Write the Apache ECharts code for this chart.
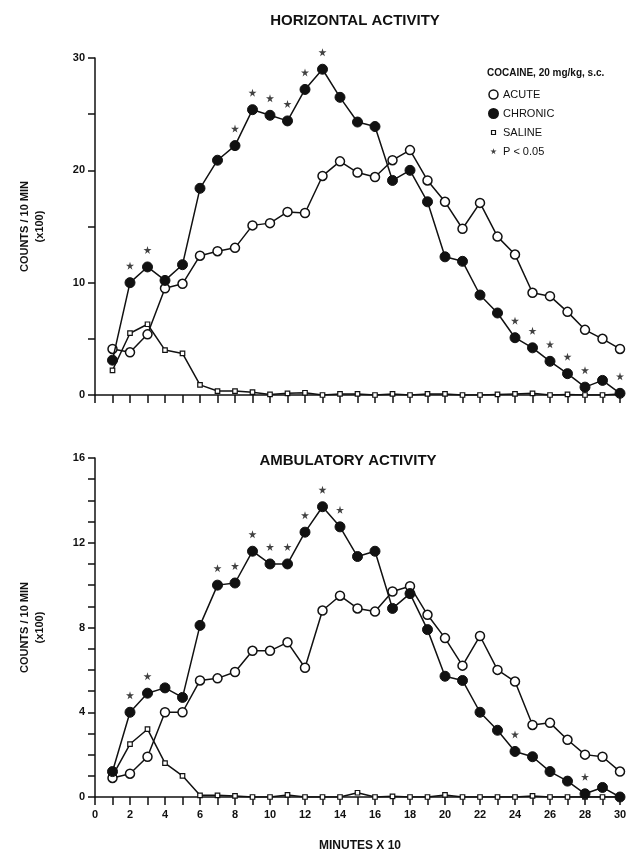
<!DOCTYPE html>
<html>
<head>
<meta charset="utf-8">
<script src="https://cdn.jsdelivr.net/npm/echarts@6/dist/echarts.min.js"></script>
<style>html,body{margin:0;padding:0;background:#fff}#c{width:638px;height:858px}</style>
</head>
<body>
<div id="c"></div>
<script>
// ---- data ----
var intervals = [1,2,3,4,5,6,7,8,9,10,11,12,13,14,15,16,17,18,19,20,21,22,23,24,25,26,27,28,29,30];

var horizAcute   = [4.1,3.8,5.4,9.5,9.9,12.4,12.8,13.1,15.1,15.3,16.3,16.2,19.5,20.8,19.8,19.4,20.9,21.8,19.1,17.2,14.8,17.1,14.1,12.5,9.1,8.8,7.4,5.8,5.0,4.1];
var horizChronic = [3.1,10.0,11.4,10.2,11.6,18.4,20.9,22.2,25.4,24.9,24.4,27.2,29.0,26.5,24.3,23.9,19.1,20.0,17.2,12.3,11.9,8.9,7.3,5.1,4.2,3.0,1.9,0.7,1.3,0.15];
var horizSaline  = [2.2,5.5,6.3,4.0,3.7,0.9,0.35,0.35,0.25,0.05,0.15,0.2,0.0,0.1,0.1,0.0,0.1,0.0,0.1,0.1,0.0,0.0,0.05,0.1,0.15,0.0,0.05,0.0,0.0,0.1];
var horizSig = [2,3,8,9,10,11,12,13,24,25,26,27,28,30];

var ambAcute   = [0.9,1.1,1.9,4.0,4.0,5.5,5.6,5.9,6.9,6.9,7.3,6.1,8.8,9.5,8.9,8.75,9.7,9.95,8.6,7.5,6.2,7.6,6.0,5.45,3.4,3.5,2.7,2.0,1.9,1.2];
var ambChronic = [1.2,4.0,4.9,5.15,4.7,8.1,10.0,10.1,11.6,11.0,11.0,12.5,13.7,12.75,11.35,11.6,8.9,9.6,7.9,5.7,5.5,4.0,3.15,2.15,1.9,1.2,0.75,0.15,0.45,0.0];
var ambSaline  = [1.0,2.5,3.2,1.6,1.0,0.08,0.08,0.05,0.0,0.0,0.1,0.0,0.0,0.0,0.2,0.0,0.03,0.0,0.0,0.1,0.0,0.0,0.0,0.0,0.05,0.0,0.0,0.0,0.0,0.0];
var ambSig = [2,3,7,8,9,10,11,12,13,14,24,28];

var xTicks = [0,2,4,6,8,10,12,14,16,18,20,22,24,26,28,30];

// ---- chart ----
var INK = '#111';
var FONT = '"Liberation Sans", Arial, sans-serif';
var STAR = 'path://M50,0 L61,35 L98,35 L68,57 L79,91 L50,70 L21,91 L32,57 L2,35 L39,35 Z';
var STAR_SMALL = 'path://M0,0 L0,0 M100,100 L100,100 M50,15 L58,40 L85,40 L63,55 L71,80 L50,65 L29,80 L37,55 L15,40 L42,40 Z';
var SQUARE_SMALL = 'path://M0,0 L0,0 M10,10 L10,10 M2.8,2.8 L7.2,2.8 L7.2,7.2 L2.8,7.2 Z';

function pairs(arr){ return intervals.map(function(x,i){ return [x, arr[i]]; }); }
function sigPairs(idx, arr){ return idx.map(function(x){ return [x, arr[x-1]]; }); }

function lineSeries(name, arr, gi, kind){
  var s = {
    name: name, type: 'line', xAxisIndex: gi, yAxisIndex: gi,
    data: pairs(arr), lineStyle: {color: INK, width: 1.5},
    showSymbol: true, silent: true
  };
  if (kind === 'acute'){ s.symbol='circle'; s.symbolSize=9; s.itemStyle={color:'#fff',borderColor:INK,borderWidth:1.5}; s.z=3; }
  if (kind === 'chronic'){ s.symbol='circle'; s.symbolSize=10; s.itemStyle={color:INK,borderColor:INK,borderWidth:1}; s.z=4; }
  if (kind === 'saline'){ s.symbol='rect'; s.symbolSize=4.5; s.itemStyle={color:'#fff',borderColor:INK,borderWidth:1.2}; s.z=2; }
  return s;
}
function starSeries(idx, arr, gi){
  return {name:'P < 0.05', type:'scatter', xAxisIndex:gi, yAxisIndex:gi,
    data: sigPairs(idx, arr), symbol: STAR, symbolSize: 8, symbolOffset:[0,-17],
    itemStyle:{color:INK}, z:5, silent:true};
}

function xAxis(gi, showLabels){
  return {type:'value', gridIndex:gi, min:0, max:30, interval:1,
    axisLine:{show:true, onZero:false, lineStyle:{color:INK,width:1.5}},
    axisTick:{show:true, inside:false, length:8, lineStyle:{color:INK,width:1.5}},
    axisLabel:{show:showLabels, color:INK, fontFamily:FONT, fontWeight:'bold', fontSize:11, margin:12,
      formatter:function(v){ return xTicks.indexOf(v) >= 0 ? String(v) : ''; }},
    splitLine:{show:false}};
}
function yAxis(gi, max, interval, labelEvery){
  return {type:'value', gridIndex:gi, min:0, max:max, interval:interval,
    name:'COUNTS / 10 MIN\n(x100)', nameLocation:'middle', nameGap:48, nameRotate:90,
    nameTextStyle:{color:INK, fontFamily:FONT, fontWeight:'bold', fontSize:11, lineHeight:15},
    axisLine:{show:true, onZero:false, lineStyle:{color:INK,width:1.5}},
    axisTick:{show:true, length:7, lineStyle:{color:INK,width:1.5}},
    axisLabel:{color:INK, fontFamily:FONT, fontWeight:'bold', fontSize:11, margin:10,
      formatter:function(v){ return (v % labelEvery === 0) ? String(v) : ''; }},
    splitLine:{show:false}};
}

var chart = echarts.init(document.getElementById('c'), null, {renderer:'canvas'});
chart.setOption({
  animation:false,
  backgroundColor:'#fff',
  title:[
    {text:'HORIZONTAL ACTIVITY', left:350, top:8, textAlign:'center',
      textStyle:{color:INK, fontFamily:FONT, fontWeight:'bold', fontSize:15}},
    {text:'AMBULATORY ACTIVITY', left:343, top:448, textAlign:'center',
      textStyle:{color:INK, fontFamily:FONT, fontWeight:'bold', fontSize:15}},
    {text:'COCAINE, 20 mg/kg, s.c.', left:482, top:63,
      textStyle:{color:INK, fontFamily:FONT, fontWeight:'bold', fontSize:10}},
    {text:'MINUTES X 10', left:355, top:835, textAlign:'center',
      textStyle:{color:INK, fontFamily:FONT, fontWeight:'bold', fontSize:12}}
  ],
  legend:{
    orient:'vertical', left:483, top:84, itemGap:8, itemWidth:9, itemHeight:9,
    textStyle:{color:INK, fontFamily:FONT, fontSize:11},
    selectedMode:false,
    data:[
      {name:'ACUTE', icon:'circle', itemStyle:{color:'#fff',borderColor:INK,borderWidth:1.5}},
      {name:'CHRONIC', icon:'circle', itemStyle:{color:INK,borderColor:INK}},
      {name:'SALINE', icon:SQUARE_SMALL, itemStyle:{color:'#fff',borderColor:INK,borderWidth:1.2}},
      {name:'P < 0.05', icon:STAR_SMALL, itemStyle:{color:INK}}
    ]
  },
  grid:[
    {left:95, top:58, width:525, height:337},
    {left:95, top:458, width:525, height:339}
  ],
  xAxis:[xAxis(0,false), xAxis(1,true)],
  yAxis:[yAxis(0,30,5,10), yAxis(1,16,1,4)],
  series:[
    lineSeries('SALINE', horizSaline, 0, 'saline'),
    lineSeries('ACUTE', horizAcute, 0, 'acute'),
    lineSeries('CHRONIC', horizChronic, 0, 'chronic'),
    starSeries(horizSig, horizChronic, 0),
    lineSeries('SALINE', ambSaline, 1, 'saline'),
    lineSeries('ACUTE', ambAcute, 1, 'acute'),
    lineSeries('CHRONIC', ambChronic, 1, 'chronic'),
    starSeries(ambSig, ambChronic, 1)
  ]
});
</script>
</body>
</html>
